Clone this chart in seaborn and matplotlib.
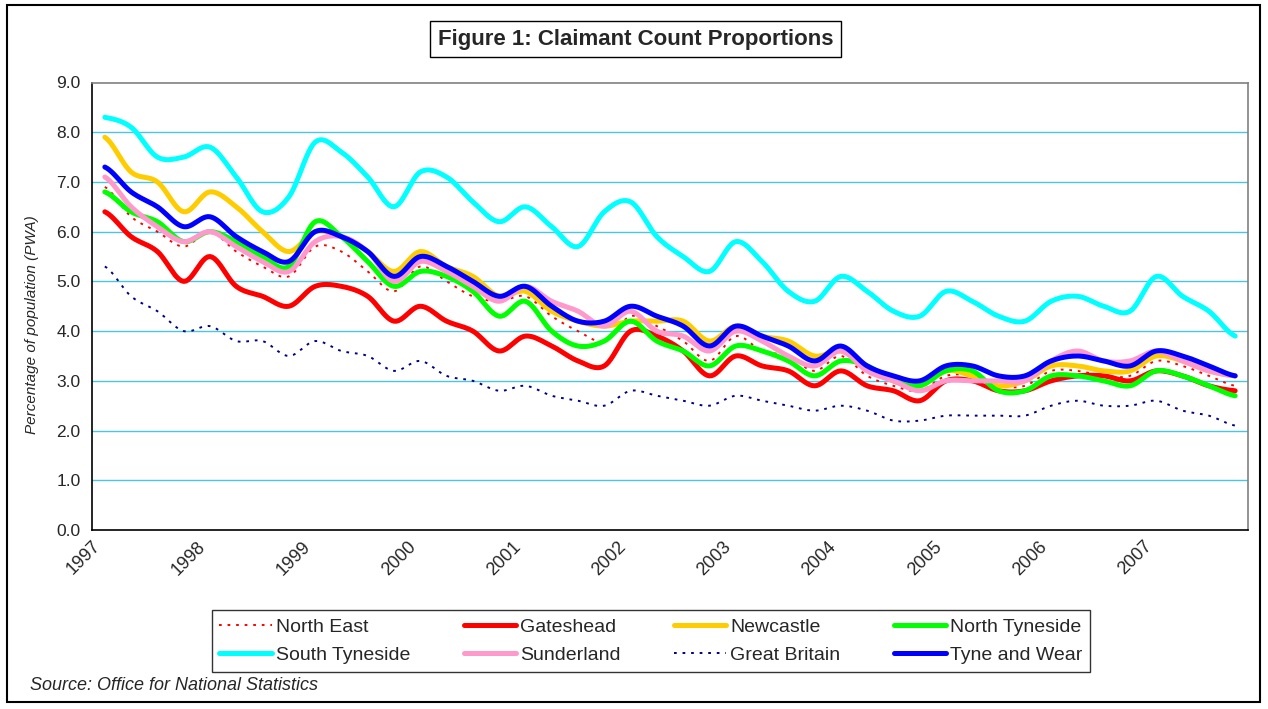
import numpy as np
import pandas as pd
import matplotlib
matplotlib.use("Agg")
import matplotlib.pyplot as plt
import matplotlib.transforms as mtransforms
import seaborn as sns
from matplotlib.lines import Line2D
from matplotlib.patches import Rectangle

# quarterly values, 1997 Q1 .. 2007 Q4 (44 quarters)
years = [str(y) for y in range(1997, 2008)]

north_east = [6.9, 6.3, 6.0, 5.7, 6.0, 5.6, 5.3, 5.1, 5.7, 5.6, 5.2, 4.8, 5.3, 5.0, 4.7, 4.6,
              4.7, 4.3, 4.0, 3.8, 4.3, 4.1, 3.8, 3.4, 3.9, 3.6, 3.5, 3.2, 3.5, 3.1, 2.9, 2.8,
              3.1, 3.1, 2.9, 2.9, 3.2, 3.2, 3.1, 3.1, 3.4, 3.3, 3.1, 2.9]
gateshead = [6.4, 5.9, 5.6, 5.0, 5.5, 4.9, 4.7, 4.5, 4.9, 4.9, 4.7, 4.2, 4.5, 4.2, 4.0, 3.6,
             3.9, 3.7, 3.4, 3.3, 4.0, 3.9, 3.6, 3.1, 3.5, 3.3, 3.2, 2.9, 3.2, 2.9, 2.8, 2.6,
             3.0, 3.0, 2.8, 2.8, 3.0, 3.1, 3.1, 3.0, 3.2, 3.1, 2.9, 2.8]
newcastle = [7.9, 7.2, 7.0, 6.4, 6.8, 6.5, 6.0, 5.6, 6.0, 5.9, 5.6, 5.2, 5.6, 5.3, 5.1, 4.7,
             4.8, 4.4, 4.2, 4.1, 4.2, 4.2, 4.2, 3.8, 4.1, 3.9, 3.8, 3.5, 3.6, 3.3, 3.0, 2.9,
             3.2, 3.1, 2.9, 3.0, 3.3, 3.3, 3.2, 3.2, 3.5, 3.4, 3.2, 3.1]
north_tyneside = [6.8, 6.4, 6.2, 5.8, 6.0, 5.8, 5.5, 5.3, 6.2, 5.9, 5.4, 4.9, 5.2, 5.1, 4.8, 4.3,
                  4.6, 4.0, 3.7, 3.8, 4.2, 3.8, 3.6, 3.3, 3.7, 3.6, 3.4, 3.1, 3.4, 3.3, 3.0, 2.9,
                  3.2, 3.2, 2.8, 2.8, 3.1, 3.1, 3.0, 2.9, 3.2, 3.1, 2.9, 2.7]
south_tyneside = [8.3, 8.1, 7.5, 7.5, 7.7, 7.1, 6.4, 6.7, 7.8, 7.6, 7.1, 6.5, 7.2, 7.1, 6.6, 6.2,
                  6.5, 6.1, 5.7, 6.4, 6.6, 5.9, 5.5, 5.2, 5.8, 5.4, 4.8, 4.6, 5.1, 4.8, 4.4, 4.3,
                  4.8, 4.6, 4.3, 4.2, 4.6, 4.7, 4.5, 4.4, 5.1, 4.7, 4.4, 3.9]
sunderland = [7.1, 6.5, 6.1, 5.8, 6.0, 5.7, 5.4, 5.2, 5.8, 5.9, 5.6, 5.0, 5.4, 5.2, 4.9, 4.6,
              4.9, 4.6, 4.4, 4.1, 4.4, 4.0, 3.9, 3.6, 4.0, 3.8, 3.5, 3.3, 3.6, 3.2, 3.0, 2.8,
              3.0, 3.0, 3.0, 3.0, 3.4, 3.6, 3.4, 3.4, 3.6, 3.4, 3.2, 3.1]
great_britain = [5.3, 4.7, 4.4, 4.0, 4.1, 3.8, 3.8, 3.5, 3.8, 3.6, 3.5, 3.2, 3.4, 3.1, 3.0, 2.8,
                 2.9, 2.7, 2.6, 2.5, 2.8, 2.7, 2.6, 2.5, 2.7, 2.6, 2.5, 2.4, 2.5, 2.4, 2.2, 2.2,
                 2.3, 2.3, 2.3, 2.3, 2.5, 2.6, 2.5, 2.5, 2.6, 2.4, 2.3, 2.1]
tyne_and_wear = [7.3, 6.8, 6.5, 6.1, 6.3, 5.9, 5.6, 5.4, 6.0, 5.9, 5.6, 5.1, 5.5, 5.3, 5.0, 4.7,
                 4.9, 4.5, 4.2, 4.2, 4.5, 4.3, 4.1, 3.7, 4.1, 3.9, 3.7, 3.4, 3.7, 3.3, 3.1, 3.0,
                 3.3, 3.3, 3.1, 3.1, 3.4, 3.5, 3.4, 3.3, 3.6, 3.5, 3.3, 3.1]

series = {
    "North East": north_east,
    "Gateshead": gateshead,
    "Newcastle": newcastle,
    "North Tyneside": north_tyneside,
    "South Tyneside": south_tyneside,
    "Sunderland": sunderland,
    "Great Britain": great_britain,
    "Tyne and Wear": tyne_and_wear,
}

dot = (0, (1.4, 3.0))
styles = {
    "North East": dict(color="#FF0000", lw=1.4, ls=dot),
    "Gateshead": dict(color="#FF0000", lw=3.6, ls="-"),
    "Newcastle": dict(color="#FFCC00", lw=3.6, ls="-"),
    "North Tyneside": dict(color="#00FF00", lw=3.6, ls="-"),
    "South Tyneside": dict(color="#00FFFF", lw=3.6, ls="-"),
    "Sunderland": dict(color="#FF99CC", lw=3.6, ls="-"),
    "Great Britain": dict(color="#000080", lw=1.4, ls=dot),
    "Tyne and Wear": dict(color="#0000FF", lw=3.6, ls="-"),
}


def smoothed(vals, steps=12):
    # Excel "smoothed line" look: Catmull-Rom curve through the points (drawing only)
    p = np.concatenate([[vals[0]], vals, [vals[-1]]])
    t = np.linspace(0, 1, steps, endpoint=False)
    xs, ys = [], []
    for i in range(len(vals) - 1):
        p0, p1, p2, p3 = p[i], p[i + 1], p[i + 2], p[i + 3]
        y = 0.5 * (2 * p1 + (p2 - p0) * t + (2 * p0 - 5 * p1 + 4 * p2 - p3) * t ** 2
                   + (3 * p1 - p0 - 3 * p2 + p3) * t ** 3)
        xs.extend(i + t)
        ys.extend(y)
    xs.append(len(vals) - 1)
    ys.append(vals[-1])
    return xs, ys


rows = []
for name, vals in series.items():
    xs, ys = smoothed(np.array(vals, dtype=float))
    rows.append(pd.DataFrame({"quarter": xs, "value": ys, "series": name}))
df = pd.concat(rows, ignore_index=True)

sns.set_style("white")
plt.rcParams["font.family"] = ["Liberation Sans", "DejaVu Sans"]

fig = plt.figure(figsize=(12.68, 7.09), dpi=100)
ax = fig.add_axes([91.7 / 1268, 1 - 530 / 709, 1156.6 / 1268, 447.5 / 709])

for k, name in enumerate(series):
    st = styles[name]
    sns.lineplot(data=df[df["series"] == name], x="quarter", y="value", ax=ax,
                 color=st["color"], linewidth=st["lw"], linestyle=st["ls"],
                 estimator=None, errorbar=None, sort=False, zorder=3 + k)

ax.set_xlim(-0.5, len(north_east) - 0.5)
ax.set_ylim(0, 9)
ax.set_xlabel("")
ax.set_ylabel("")

# gridlines
for v in range(1, 9):
    ax.axhline(v, color="#4CC4E6", lw=1.0, zorder=1)

ax.set_yticks(range(0, 10))
ax.set_yticklabels([f"{v:.1f}" for v in range(0, 10)], fontsize=12.5)
ax.set_xticks(np.arange(-0.5, len(north_east), 1))
ax.set_xticklabels([])
ax.set_xticks(np.arange(0, len(north_east), 4), minor=True)
ax.set_xticklabels(years, minor=True, fontsize=13, rotation=45,
                   ha="right", va="center", rotation_mode="anchor")
ax.tick_params(axis="x", which="major", direction="out", length=5, width=1, color="black")
ax.tick_params(axis="x", which="minor", length=0, pad=10)
ax.tick_params(axis="y", direction="out", length=5, width=1, color="black", pad=3)
shift = mtransforms.ScaledTranslation(-7 / 100, 0, fig.dpi_scale_trans)
for lab in ax.get_xticklabels(minor=True):
    lab.set_transform(lab.get_transform() + shift)

for s in ["left", "bottom"]:
    ax.spines[s].set_color("black")
    ax.spines[s].set_linewidth(1.2)
for s in ["top", "right"]:
    ax.spines[s].set_color("#808080")
    ax.spines[s].set_linewidth(1.2)

fig.text(32 / 1268, 1 - 325 / 709, "Percentage of population (PWA)", rotation=90,
         ha="center", va="center", fontsize=11, style="italic")

fig.text(635.5 / 1268, 1 - 39 / 709, "Figure 1: Claimant Count Proportions",
         ha="center", va="center", fontsize=16, weight="bold",
         bbox=dict(boxstyle="square,pad=0.35", fc="white", ec="black", lw=1))

# legend filled row by row like the original
names = list(series)
order = [0, 4, 1, 5, 2, 6, 3, 7]
handles = [Line2D([0], [0], color=styles[names[i]]["color"], lw=styles[names[i]]["lw"],
                  ls=styles[names[i]]["ls"]) for i in order]
labels = [names[i] for i in order]
leg = fig.legend(handles, labels, loc="center", bbox_to_anchor=(651 / 1268, 1 - 641 / 709),
                 ncol=4, fontsize=14, frameon=True, fancybox=False, edgecolor="black",
                 handlelength=2.7, handletextpad=0.2, columnspacing=2.75,
                 borderpad=0.4, labelspacing=0.55)
leg.get_frame().set_linewidth(1)

fig.text(30 / 1268, 1 - 685 / 709, "Source: Office for National Statistics",
         ha="left", va="center", fontsize=13, style="italic")

fig.patches.append(Rectangle((7 / 1268, 1 - 702 / 709), 1253 / 1268, 697 / 709,
                             transform=fig.transFigure, fill=False, ec="black", lw=1.5))

fig.savefig("out.png", dpi=100)
